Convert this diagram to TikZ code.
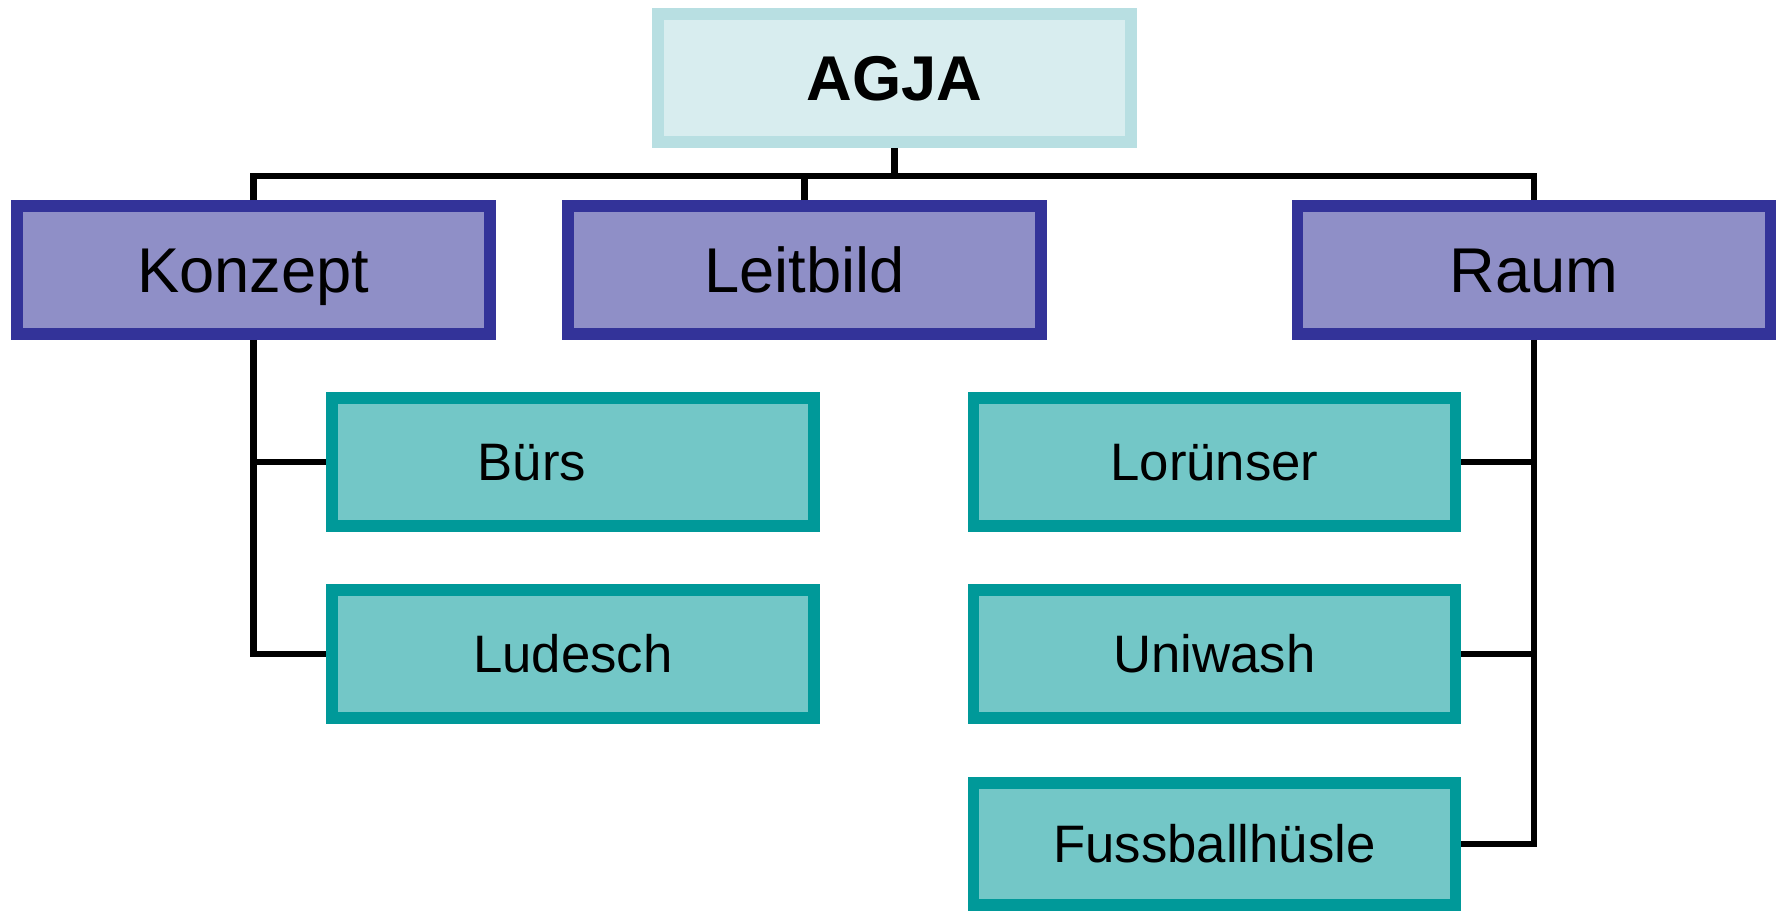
\documentclass[tikz,border=0pt]{standalone}
\usepackage{fontspec}
\setmainfont{Liberation Sans}
\definecolor{agjacol}{RGB}{184,223,226}
\definecolor{catcol}{RGB}{51,51,153}
\definecolor{subcol}{RGB}{0,153,153}
\begin{document}
\begin{tikzpicture}
  \tikzset{ top/.style={rectangle,draw=agjacol,fill=agjacol!55!white,line width=3.4pt,minimum width=4.73cm,minimum height=1.28cm,text height=12.9pt,text depth=0pt,font=\fontsize{18}{20}\selectfont\bfseries},
    cat/.style={rectangle,draw=catcol,fill=catcol!55!white,line width=3.4pt,minimum width=4.73cm,minimum height=1.28cm,text height=12.9pt,text depth=0pt,font=\fontsize{18}{20}\selectfont},
    sub/.style={rectangle,draw=subcol,fill=subcol!55!white,line width=3.4pt,minimum width=4.82cm,minimum height=1.28cm,text height=10.7pt,text depth=0pt,font=\fontsize{15}{17}\selectfont},
    conn/.style={black,line width=1.8pt},
  }
  \useasboundingbox (0,0) rectangle (17.77,-9.12);

  \node[top] (agja) at (8.945,-0.78) {AGJA};
  \node[cat] (konzept) at (2.535,-2.70) {Konzept};
  \node[cat] (leitbild) at (8.045,-2.70) {Leitbild};
  \node[cat] (raum) at (15.34,-2.70) {Raum};

  \node[sub] (buers) at (5.73,-4.62) {Bürs\hspace*{0.82cm}};
  \node[sub] (ludesch) at (5.73,-6.54) {Ludesch};
  \node[sub] (loru) at (12.145,-4.62) {Lorünser};
  \node[sub] (uniwash) at (12.145,-6.54) {Uniwash};
  \node[sub,minimum height=1.22cm] (fuss) at (12.145,-8.44) {Fussballhüsle};

  \coordinate (bus) at (8.945,-1.76);
  \draw[conn] (agja.south) -- (agja.south |- bus);
  \draw[conn] (konzept.north) |- (raum.north |- bus) -- (raum.north);
  \draw[conn] (leitbild.north) -- (leitbild.north |- bus);

  \draw[conn] (konzept.south) |- (ludesch.west);
  \draw[conn] (konzept.south |- buers.west) -- (buers.west);
  \draw[conn] (raum.south) |- (fuss.east);
  \draw[conn] (raum.south |- loru.east) -- (loru.east);
  \draw[conn] (raum.south |- uniwash.east) -- (uniwash.east);
\end{tikzpicture}
\end{document}
